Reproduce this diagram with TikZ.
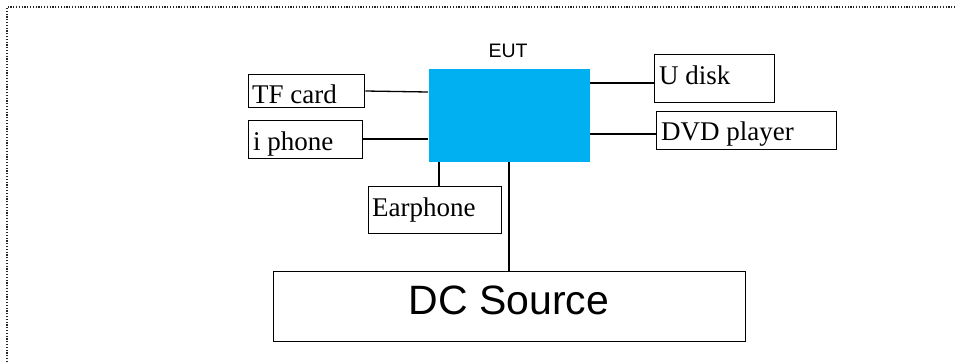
\documentclass[tikz,border=0pt]{standalone}
\usepackage{fontspec}
\setmainfont{Liberation Serif}
\newfontfamily\arialfont{Liberation Sans}
\definecolor{eutblue}{HTML}{00B0F0}
\begin{document}
\begin{tikzpicture}[x=1pt,y=-1pt,
  box/.style={draw=black, line width=1.3pt, inner sep=0pt, anchor=north west},
  lbl/.style={inner sep=0pt, anchor=base west, font=\fontsize{27}{30}\selectfont},
  conn/.style={draw=black, line width=1.3pt},
  frame/.style={draw=black!85, line width=1.3pt, dash pattern=on 1.2pt off 1.6pt}]
\useasboundingbox (0,0) rectangle (957,362);
% dotted frame (top and left only)
\coordinate (fbl) at (7,362);
\coordinate (ftl) at (7,7);
\coordinate (ftr) at (957,7);
\draw[frame] (fbl) -- (ftl) -- (ftr);
% EUT
\node[box, draw=none, fill=eutblue, minimum width=161pt, minimum height=93pt] (eut) at (428,68) {};
\node[inner sep=0pt, anchor=base, font=\arialfont\fontsize{19.5}{22}\selectfont] (eutlbl) at (508,57.5) {EUT};
% peripheral boxes
\node[box, minimum width=116pt, minimum height=33pt] (tf) at (248,74) {};
\node[lbl] (tftext) at (252,103) {TF card};
\node[box, minimum width=114pt, minimum height=38pt] (ip) at (248,120) {};
\node[lbl] (iptext) at (253,150) {i phone};
\node[box, minimum width=133pt, minimum height=47pt] (ear) at (368,186) {};
\node[lbl] (eartext) at (372,216) {Earphone};
\node[box, minimum width=120pt, minimum height=48pt] (ud) at (654,54) {};
\node[lbl] (udtext) at (659,84) {U disk};
\node[box, minimum width=180pt, minimum height=38pt] (dvd) at (656,111) {};
\node[lbl] (dvdtext) at (661,140.5) {DVD player};
\node[box, minimum width=472pt, minimum height=70pt] (dc) at (273,271) {};
\node[inner sep=0pt, anchor=base, font=\arialfont\fontsize{41}{44}\selectfont] (dctext) at (509,314) {DC Source};
% connectors
\draw[conn] (tf.east |- 0,91) -- (eut.west |- 0,92);
\draw[conn] (ip.east |- 0,139) -- (eut.west |- 0,139);
\draw[conn] (eut.south -| 439,0) -- (ear.north -| 439,0);
\draw[conn] (eut.south -| 509,0) -- (dc.north -| 509,0);
\draw[conn] (eut.east |- 0,83) -- (ud.west |- 0,83);
\draw[conn] (eut.east |- 0,134) -- (dvd.west |- 0,134);
\end{tikzpicture}
\end{document}
